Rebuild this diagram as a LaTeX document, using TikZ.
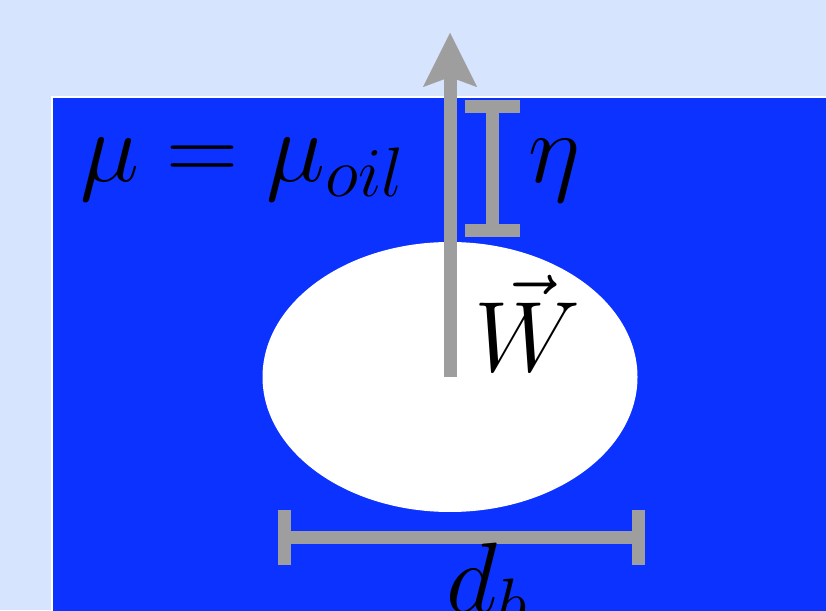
\documentclass[tikz,border=0pt]{standalone}
\usepackage{fix-cm}
\usepackage{amsmath,amssymb}
\usepackage{xcolor}
\usepackage{tikz}
\usetikzlibrary{shapes.geometric, arrows.meta, positioning}
\definecolor{pageBg}{RGB}{214, 228, 253}
\definecolor{oilBlue}{RGB}{12, 50, 255}
\definecolor{gaugeGray}{RGB}{158, 158, 158}
\tikzset{
    gauge/.style={draw=gaugeGray, line width=13pt},
    biglabel/.style={inner sep=0pt, font=\fontsize{100}{120}\selectfont}
}

\begin{document}
\begin{tikzpicture}[x=1pt, y=1pt]
    \useasboundingbox (0,0) rectangle (826,610);
    \fill[pageBg] (0,0) rectangle (826,610);
    \clip (0,0) rectangle (826,610);
    \draw[fill=oilBlue, draw=white, line width=2pt] (52,513) rectangle (840,-10);
    \node[ellipse, fill=white, minimum width=375pt, minimum height=270pt, inner sep=0pt] (bubble) at (450,233) {};
    \coordinate (tip) at (450,577);
    \coordinate (etaTop) at (492,510);
    \coordinate (etaBot) at (492,373);
    \coordinate (dLeft) at (277.6,73);
    \coordinate (dRight) at (644.5,73);
    \draw[gauge, -{Stealth[length=54pt, width=54pt, inset=10pt, line width=0.01pt]}] (bubble.center) -- (tip);
    \draw[gauge, {Bar}-{Bar}] (etaTop) -- (etaBot);
    \draw[gauge, {Bar}-{Bar}] (dLeft) -- (dRight);
    \node[biglabel, anchor=base west] (visc) at (80,428) {$\mu=\mu_{oil}$};
    \node[biglabel, anchor=base west] (eta) at (528,427) {$\eta$};
    \node[biglabel, anchor=base west] (weight) at (474,238) {$\vec{W}$};
    \node[biglabel, anchor=base west] (diam) at (446,-2) {$d_b$};
\end{tikzpicture}
\end{document}
